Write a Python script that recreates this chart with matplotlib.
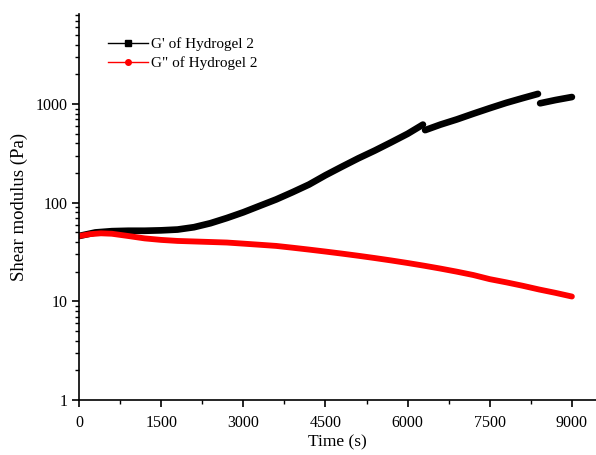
import numpy as np
import matplotlib
matplotlib.use("Agg")
import matplotlib.pyplot as plt
from matplotlib.lines import Line2D
from matplotlib.ticker import LogLocator, FixedLocator, NullFormatter

plt.rcParams['font.family'] = ['Liberation Serif', 'DejaVu Serif']

# G' of Hydrogel 2 (storage modulus); the instrument trace restarts twice
t_g1 = [0, 300, 600, 900, 1200, 1500, 1800, 2100, 2400, 2700, 3000, 3300, 3600,
        3900, 4200, 4500, 4800, 5100, 5400, 5700, 6000, 6280, 6320, 6600, 6900,
        7200, 7500, 7800, 8100, 8380, 8420, 8700, 9000]
g1 = [46, 50, 51.5, 52, 52, 52.5, 53.5, 56.5, 62, 70, 80, 93, 108,
      128, 153, 190, 232, 282, 338, 410, 500, 620, 545, 620, 700,
      800, 910, 1030, 1150, 1270, 1020, 1100, 1180]
g1_breaks = [22, 30]   # index where a new segment starts

# G" of Hydrogel 2 (loss modulus)
t_g2 = [0, 200, 400, 600, 900, 1200, 1500, 1800, 2100, 2400, 2700, 3000, 3300,
        3600, 3900, 4200, 4500, 4800, 5100, 5400, 5700, 6000, 6300, 6600, 6900,
        7200, 7500, 7800, 8100, 8400, 8700, 9000]
g2 = [46, 48, 49, 48.5, 46, 43.5, 42, 41, 40.5, 40, 39.5, 38.5, 37.5,
      36.5, 35, 33.5, 32, 30.5, 29, 27.5, 26, 24.5, 23, 21.5, 20,
      18.5, 16.8, 15.6, 14.4, 13.2, 12.2, 11.2]

x_ticks = [0, 1500, 3000, 4500, 6000, 7500, 9000]

fig = plt.figure(figsize=(5.96, 4.55), dpi=100)
ax = fig.add_axes([79/596, 1-400/455, 1-79/596, (400-14)/455])

edges = [0] + g1_breaks + [len(t_g1)]
for a, b in zip(edges[:-1], edges[1:]):
    ax.plot(t_g1[a:b], g1[a:b], color='black', lw=4.8, solid_capstyle='round')
ax.plot(t_g2, g2, color='red', lw=4.2, solid_capstyle='round')

ax.set_yscale('log')
ax.set_ylim(1, 8200)
ax.set_xlim(0, 9440)
ax.set_xticks(x_ticks)
ax.xaxis.set_minor_locator(FixedLocator([750, 2250, 3750, 5250, 6750, 8250]))
ax.yaxis.set_major_locator(FixedLocator([1, 10, 100, 1000]))
ax.yaxis.set_major_formatter(matplotlib.ticker.FuncFormatter(lambda v, p: f"{v:g}"))
ax.yaxis.set_minor_locator(LogLocator(base=10, subs=np.arange(2, 10)))
ax.yaxis.set_minor_formatter(NullFormatter())

for s in ['top', 'right']:
    ax.spines[s].set_visible(False)
for s in ['left', 'bottom']:
    ax.spines[s].set_linewidth(1.2)

ax.tick_params(which='major', direction='out', length=5, width=1.2, labelsize=11.5)
ax.tick_params(axis='x', which='major', pad=6)
ax.tick_params(which='minor', direction='out', length=3, width=1.0)

ax.set_xlabel('Time (s)', fontsize=12.5, labelpad=2)
ax.set_ylabel('Shear modulus (Pa)', fontsize=13.5, labelpad=5)

handles = [
    Line2D([], [], color='black', lw=1, marker='s', markersize=4),
    Line2D([], [], color='red', lw=1, marker='o', markersize=4),
]
ax.legend(handles, ["G' of Hydrogel 2", 'G" of Hydrogel 2'], loc='upper left',
          bbox_to_anchor=(0.03, 0.975), frameon=False, fontsize=11,
          handlelength=2.6, handletextpad=0.2, labelspacing=0.35)

fig.savefig('out.png', dpi=100)
